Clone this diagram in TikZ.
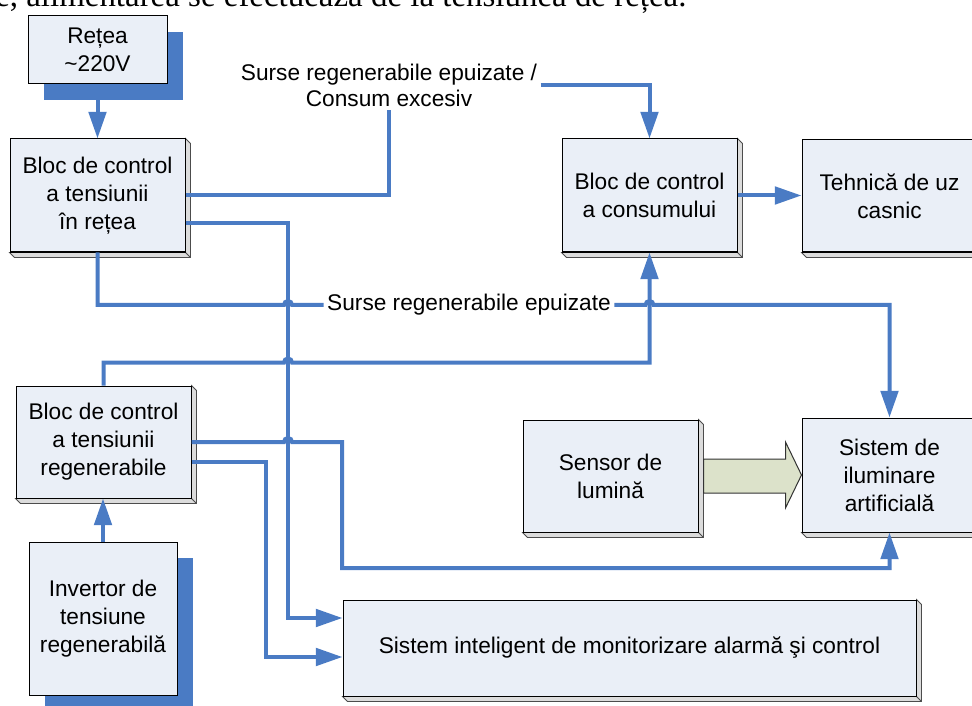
\documentclass[tikz,border=0pt]{standalone}
\usepackage{fontspec}
\setmainfont{Liberation Sans}
\newfontfamily\textserif{Liberation Serif}
\usetikzlibrary{arrows.meta,calc,shadows}
\definecolor{liniealbastra}{HTML}{4A7BC4}
\definecolor{umplerebloc}{HTML}{EAEFF7}
\definecolor{fatagri}{HTML}{DCDCDC}
\definecolor{umpleresageata}{HTML}{DCE2CA}
\tikzset{
  bloc/.style={draw, line width=0.75pt, fill=umplerebloc, align=center, inner sep=0pt, font=\fontsize{17}{21}\selectfont},
  umbra/.style={drop shadow={shadow xshift=12pt, shadow yshift=-12pt, fill=liniealbastra, opacity=1, draw=none}},
  eticheta/.style={align=center, inner sep=2.5pt, font=\fontsize{17}{19.5}\selectfont},
  legatura/.style={draw=liniealbastra, line width=3pt},
  sageata/.style={legatura, -{Triangle[length=20pt, width=13pt]}},
  fata/.style={draw=black!70, fill=fatagri, line width=0.6pt},
  sageatamare/.style={draw=black!80, fill=umpleresageata, line width=0.75pt},
}
% fata 3D in dreapta si jos a unui bloc
\def\bevel(#1){%
  \draw[fata] (#1.north east) -- ($(#1.north east)+(5,5)$) -- ($(#1.south east)+(5,5)$) -- ($(#1.south west)+(5,5)$) -- (#1.south west) -- (#1.south east) -- cycle;
  \draw[fata] (#1.south east) -- ($(#1.south east)+(5,5)$);
  \draw[line width=0.75pt] (#1.south west) -- (#1.south east) -- (#1.north east);}
% salt peste linia verticala
\def\hop{arc[start angle=180, end angle=0, radius=3pt]}

\begin{document}
\begin{tikzpicture}[x=0.75pt, y=-0.75pt]
	%%%%% START %%%%%
	\useasboundingbox (0,0) rectangle (972,706);
	\clip (0,0) rectangle (972,706);

	\node[anchor=base west, inner sep=0pt, font=\textserif\fontsize{24.7}{29}\selectfont] (textsus) at (-5,7) {e, alimentarea se efectuează de la tensiunea de rețea.};

	\node[bloc, umbra, minimum width=104.25pt, minimum height=51pt] (retea) at (97.5,50) {Rețea\\\textasciitilde220V};
	\node[bloc, minimum width=131.25pt, minimum height=84.75pt] (blocRetea) at (97.5,195.5) {Bloc de control\\a tensiunii\\în rețea};
	\node[bloc, minimum width=131.25pt, minimum height=84pt] (blocRegen) at (103.5,442) {Bloc de control\\a tensiunii\\regenerabile};
	\node[bloc, umbra, minimum width=111pt, minimum height=114.75pt] (invertor) at (103,618.5) {Invertor de\\tensiune\\regenerabilă};
	\node[bloc, minimum width=131.25pt, minimum height=84.75pt] (blocConsum) at (649.5,195.5) {Bloc de control\\a consumului};
	\node[bloc, minimum width=131.25pt, minimum height=84pt] (tehnica) at (889.5,196) {Tehnică de uz\\casnic};
	\node[bloc, minimum width=131.25pt, minimum height=84pt] (senzor) at (610.5,476) {Sensor de\\lumină};
	\node[bloc, minimum width=131.25pt, minimum height=85.5pt] (iluminare) at (889.5,475) {Sistem de\\iluminare\\artificială};
	\node[bloc, minimum width=429.75pt, minimum height=72pt] (monitor) at (629.5,648) {Sistem inteligent de monitorizare alarmă şi control};

	\bevel(blocRetea)
	\bevel(blocRegen)
	\bevel(blocConsum)
	\bevel(tehnica)
	\bevel(senzor)
	\bevel(iluminare)
	\bevel(monitor)

	\node[eticheta] (lblConsum) at (389,85) {Surse regenerabile epuizate /\\Consum excesiv};
	\node[eticheta] (lblSurse) at (469,305) {Surse regenerabile epuizate};

	\coordinate (trunkTop) at (288,223);
	\coordinate (trunkLow) at (266,462);
	\coordinate (busRegen) at ($(blocRegen.north)+(0,-23)$);
	\coordinate (busJos) at (342,568);

	% legaturi
	\draw[sageata] (retea) -- (blocRetea);
	\draw[legatura] (blocRetea.east) -| (lblConsum.south);
	\draw[sageata] (lblConsum.east) -| (blocConsum.north);
	\draw[sageata] ($(blocRetea.east)+(0,27.5)$) -- (trunkTop) |- ($(monitor.west)+(0,-30)$);
	\draw[sageata] ($(blocRegen.east)+(0,20)$) -- (trunkLow) |- ($(monitor.west)+(0,9)$);
	\draw[legatura] (blocRetea.south) |- ($(trunkTop |- lblSurse.west)+(-4,0)$) \hop -- (lblSurse.west);
	\draw[sageata] (lblSurse.east) -- ($(blocConsum.south |- lblSurse.east)+(-4,0)$) \hop -| (iluminare.north);
	\draw[sageata] (blocRegen.north) -- (busRegen) -- ($(trunkTop |- busRegen)+(-4,0)$) \hop -| (blocConsum.south);
	\draw[sageata] (blocRegen.east) -- ($(trunkTop |- blocRegen.east)+(-4,0)$) \hop -- (busJos |- blocRegen.east) -- (busJos) -| (iluminare.south);
	\draw[sageata] (invertor.north) -- (invertor.north |- blocRegen.south);
	\draw[sageata] (blocConsum.east) -- (blocConsum.east -| tehnica.west);

	\draw[sageatamare] ($(senzor.east)+(5,-17)$) -- ($(senzor.east)+(87,-17)$) -- ($(senzor.east)+(87,-34)$) -- (iluminare.west) -- ($(senzor.east)+(87,32)$) -- ($(senzor.east)+(87,17)$) -- ($(senzor.east)+(5,17)$) -- cycle;
	%%%%% END %%%%%
\end{tikzpicture}
\end{document}
